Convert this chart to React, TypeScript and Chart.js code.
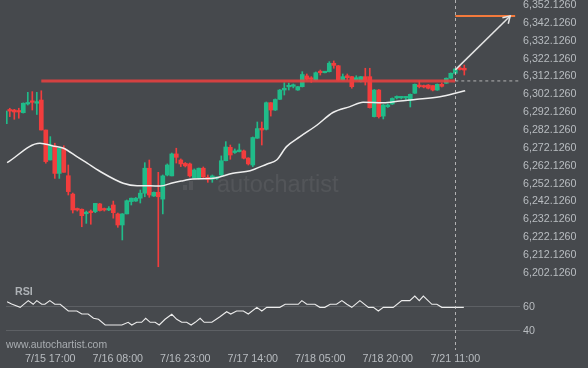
import { useEffect, useRef } from 'react';
import { Chart, registerables } from 'chart.js';

Chart.register(...registerables);

// ---- data (hourly candles, index 0..102) ----
const OPEN = [
  6284.9, 6292.8, 6292.5, 6291.9, 6291.0, 6295.9, 6297.6, 6296.3, 6298.1, 6281.3,
  6264.5, 6272.3, 6257.0, 6271.0, 6255.7, 6245.4, 6237.1, 6236.9, 6234.4, 6235.6,
  6235.6, 6239.9, 6237.1, 6236.5, 6239.3, 6234.3, 6228.1, 6234.3, 6241.2, 6241.5,
  6243.1, 6245.9, 6259.9, 6244.3, 6246.4, 6242.6, 6256.1, 6255.6, 6267.9, 6264.5,
  6262.6, 6262.3, 6254.4, 6254.3, 6259.9, 6254.8, 6253.7, 6254.2, 6256.1, 6264.1,
  6271.6, 6268.7, 6269.2, 6269.6, 6265.6, 6261.7, 6276.7, 6282.3, 6281.7, 6296.6,
  6292.5, 6298.5, 6303.7, 6305.5, 6305.8, 6303.7, 6305.6, 6311.6, 6310.2, 6309.3,
  6314.0, 6313.4, 6314.0, 6318.7, 6317.3, 6309.3, 6311.7, 6311.2, 6309.3, 6308.4,
  6311.2, 6311.2, 6288.8, 6303.7, 6289.1, 6294.4, 6295.9, 6299.3, 6299.3, 6299.3,
  6298.1, 6301.9, 6306.5, 6306.0, 6306.5, 6306.2, 6303.7, 6306.9, 6307.5, 6310.3,
  6313.1, 6315.9, 6315.9,
];
const HIGH = [
  6292.2, 6293.5, 6292.9, 6293.5, 6296.5, 6302.4, 6302.8, 6302.4, 6303.3, 6281.3,
  6277.6, 6273.9, 6271.2, 6272.5, 6261.7, 6246.0, 6237.6, 6237.1, 6235.9, 6236.5,
  6240.2, 6240.2, 6237.6, 6238.4, 6241.5, 6234.8, 6234.5, 6242.1, 6243.2, 6243.5,
  6247.7, 6263.0, 6264.5, 6246.6, 6257.6, 6256.1, 6262.3, 6268.4, 6271.1, 6265.1,
  6263.1, 6262.8, 6259.5, 6260.0, 6260.6, 6256.1, 6256.1, 6255.0, 6266.8, 6274.8,
  6272.9, 6270.7, 6273.5, 6270.1, 6265.8, 6277.4, 6285.8, 6285.8, 6297.0, 6296.7,
  6298.7, 6304.0, 6307.8, 6307.6, 6307.1, 6305.7, 6314.0, 6312.7, 6311.2, 6313.8,
  6314.9, 6314.1, 6319.6, 6320.0, 6317.5, 6312.7, 6312.7, 6311.3, 6311.7, 6311.3,
  6315.9, 6315.9, 6304.0, 6304.0, 6295.6, 6295.9, 6299.3, 6300.4, 6300.1, 6300.1,
  6301.5, 6307.1, 6308.8, 6306.5, 6306.8, 6306.2, 6307.1, 6307.7, 6310.5, 6313.3,
  6315.8, 6317.2, 6317.7,
];
const LOW = [
  6284.7, 6288.8, 6287.3, 6287.9, 6290.8, 6295.3, 6292.5, 6290.0, 6281.3, 6262.7,
  6264.5, 6254.2, 6254.2, 6257.6, 6244.9, 6234.8, 6235.9, 6227.1, 6229.0, 6228.5,
  6235.0, 6235.9, 6235.9, 6236.1, 6231.9, 6226.8, 6219.7, 6234.3, 6239.3, 6241.3,
  6240.4, 6243.9, 6243.6, 6244.1, 6204.7, 6234.3, 6255.6, 6255.6, 6262.8, 6260.8,
  6260.6, 6255.0, 6254.2, 6253.9, 6254.7, 6252.0, 6252.0, 6253.6, 6255.8, 6264.0,
  6264.9, 6268.2, 6269.0, 6265.1, 6261.7, 6260.8, 6276.6, 6272.9, 6281.3, 6289.1,
  6292.2, 6298.4, 6300.9, 6303.7, 6304.9, 6303.5, 6305.4, 6309.3, 6308.0, 6309.1,
  6312.1, 6313.3, 6313.8, 6315.9, 6309.1, 6309.1, 6309.3, 6304.7, 6309.1, 6308.2,
  6306.5, 6293.6, 6288.6, 6288.0, 6287.5, 6293.9, 6295.6, 6298.7, 6298.7, 6298.4,
  6294.2, 6301.8, 6304.9, 6304.9, 6304.3, 6303.2, 6303.5, 6305.4, 6307.4, 6310.2,
  6313.0, 6314.9, 6312.1,
];
const CLOSE = [
  6291.9, 6291.9, 6291.4, 6291.4, 6296.3, 6296.6, 6296.8, 6297.2, 6281.3, 6263.6,
  6272.9, 6257.0, 6271.0, 6257.6, 6246.8, 6236.5, 6236.5, 6233.3, 6235.2, 6235.0,
  6240.2, 6236.2, 6236.5, 6237.1, 6235.0, 6228.1, 6234.3, 6241.7, 6243.1, 6243.1,
  6245.9, 6259.9, 6244.9, 6246.4, 6243.9, 6255.6, 6261.7, 6267.9, 6266.0, 6262.3,
  6261.2, 6255.6, 6258.9, 6259.9, 6255.0, 6253.7, 6255.6, 6254.5, 6264.1, 6271.8,
  6267.3, 6269.6, 6270.1, 6265.5, 6262.3, 6277.1, 6282.1, 6281.3, 6296.6, 6292.5,
  6298.4, 6303.7, 6304.7, 6305.9, 6306.1, 6305.6, 6312.4, 6309.7, 6309.7, 6313.4,
  6313.4, 6313.8, 6318.7, 6317.5, 6309.3, 6311.2, 6310.6, 6305.6, 6310.6, 6311.2,
  6308.4, 6293.8, 6303.7, 6288.8, 6295.3, 6295.3, 6299.0, 6299.6, 6299.5, 6299.6,
  6301.3, 6306.9, 6305.6, 6305.4, 6304.7, 6303.7, 6306.9, 6305.8, 6310.3, 6313.1,
  6315.5, 6315.2, 6314.9,
];

// moving average [candle index, price]
const MA_POINTS = [
  [0.4, 6263.0], [7.7, 6273.9], [10.6, 6272.4], [12.8, 6271.2], [15.9, 6266.4],
  [18.2, 6262.7], [21.0, 6258.2], [26.2, 6251.5], [29.3, 6250.1], [32.2, 6250.1],
  [34.4, 6249.9], [37.3, 6251.8], [39.5, 6252.9], [41.7, 6253.9], [46.2, 6254.3],
  [50.6, 6257.1], [54.4, 6258.5], [58.2, 6262.3], [60.3, 6264.5], [62.5, 6272.0],
  [65.5, 6277.6], [69.3, 6284.1], [72.8, 6291.1], [76.6, 6294.4], [79.5, 6296.8],
  [84.0, 6296.6], [87.7, 6297.6], [91.5, 6298.5], [96.6, 6300.0], [100.0, 6301.9],
  [102.2, 6303.3],
];

// RSI [candle index, value]
const RSI_POINTS = [
  [0.4, 63.5], [1.4, 61.6], [3.3, 58.9], [5.1, 64.4], [6.2, 61.4], [7.0, 64.4],
  [8.1, 61.4], [8.8, 61.4], [9.9, 64.4], [11.0, 61.4], [12.2, 61.4], [14.0, 55.9],
  [15.9, 55.9], [17.0, 53.4], [18.4, 53.4], [19.6, 49.9], [20.7, 49.1], [22.2, 44.4],
  [25.9, 44.4], [27.3, 46.6], [28.1, 44.4], [29.2, 46.6], [30.3, 46.6], [31.2, 49.9],
  [32.2, 46.6], [33.3, 46.6], [34.2, 44.4], [35.5, 49.1], [37.0, 53.2], [38.1, 49.1],
  [39.2, 46.6], [40.3, 46.6], [41.3, 44.4], [42.2, 46.6], [43.3, 49.9], [44.2, 46.6],
  [45.9, 46.6], [47.7, 51.2], [49.2, 55.3], [50.1, 53.4], [51.4, 55.9], [52.9, 55.9],
  [54.0, 53.4], [55.9, 58.9], [57.0, 55.9], [58.1, 58.9], [61.0, 58.9], [62.2, 61.4],
  [65.1, 61.4], [65.9, 64.4], [67.0, 61.4], [68.8, 61.4], [69.9, 58.9], [71.0, 58.9],
  [72.2, 61.4], [73.6, 61.4], [74.8, 64.4], [75.9, 61.4], [77.0, 58.9], [78.8, 64.4],
  [80.7, 58.9], [81.8, 58.9], [82.9, 55.9], [84.0, 58.9], [86.2, 58.9], [88.1, 64.4],
  [89.9, 64.4], [91.0, 68.2], [92.0, 64.4], [92.9, 68.2], [94.8, 61.4], [95.9, 61.4],
  [97.0, 58.9], [101.9, 58.9],
];

const PRICE_TICKS = [
  6202.126, 6212.126, 6222.126, 6232.126, 6242.126, 6252.126, 6262.126, 6272.126,
  6282.126, 6292.126, 6302.126, 6312.126, 6322.126, 6332.126, 6342.126, 6352.126,
];
const RSI_TICKS = [40, 60];
const TIME_LABELS = ['7/15 17:00', '7/16 08:00', '7/16 23:00', '7/17 14:00', '7/18 05:00', '7/18 20:00', '7/21 11:00'];
const TIME_LABEL_INDEX = [10, 25, 40, 55, 70, 85, 100];

const RESISTANCE_PRICE = 6308.8;
const RESISTANCE_START_INDEX = 8;
const SIGNAL_INDEX = 100;
const ARROW_START_PRICE = 6315.0;
const ARROW_TIP_INDEX = 112.2;
const TARGET_PRICE = 6345.2;
const TARGET_END_INDEX = 113.3;

// visible ranges
const X_MIN = 0.156;
const X_MAX = 114.38;
const PRICE_MIN = 6159.18;
const PRICE_MAX = 6354.14;
const RSI_MIN = 25.49;
const RSI_MAX = 311.44;

// ---- styles ----
const BG = '#46494d';
const GREEN = 'rgb(32,187,137)';
const RED = 'rgb(242,61,61)';
const FONT = '"Liberation Sans", Arial, sans-serif';
const AXIS_TEXT = '#b8bcc0';
const ARROW_COLOR = '#e4e4e4';

const overlayPlugin = {
  id: 'overlay',
  beforeDraw(chart: any) {
    const { ctx, width, height } = chart;
    ctx.save();
    ctx.fillStyle = BG;
    ctx.fillRect(0, 0, width, height);
    ctx.restore();
  },
  beforeDatasetsDraw(chart: any) {
    const ctx = chart.ctx;
    ctx.save();
    ctx.fillStyle = 'rgba(255,255,255,0.07)';
    ctx.font = `23.5px ${FONT}`;
    ctx.textBaseline = 'alphabetic';
    ctx.textAlign = 'left';
    ctx.fillText('autochartist', 217, 192);
    ctx.fillRect(183, 185, 4, 5);
    ctx.fillRect(189, 181, 4, 9);
    ctx.restore();
  },
  afterDatasetsDraw(chart: any) {
    const { ctx, chartArea, scales } = chart;
    const xs = scales.x;
    const ys = scales.y;
    const vx = Math.round(xs.getPixelForValue(SIGNAL_INDEX)) + 0.5;
    ctx.save();
    ctx.strokeStyle = 'rgba(205,205,205,0.8)';
    ctx.lineWidth = 1;
    ctx.setLineDash([3, 3]);
    ctx.beginPath();
    ctx.moveTo(vx, chartArea.top);
    ctx.lineTo(vx, chartArea.bottom + 2);
    ctx.stroke();
    ctx.setLineDash([]);
    const x0 = xs.getPixelForValue(SIGNAL_INDEX);
    const y0 = ys.getPixelForValue(ARROW_START_PRICE);
    const x1 = xs.getPixelForValue(ARROW_TIP_INDEX);
    const y1 = ys.getPixelForValue(TARGET_PRICE);
    const ang = Math.atan2(y1 - y0, x1 - x0);
    const len = 8;
    const spread = 0.55;
    ctx.strokeStyle = ARROW_COLOR;
    ctx.lineWidth = 1.5;
    ctx.beginPath();
    ctx.moveTo(x1 - len * Math.cos(ang - spread), y1 - len * Math.sin(ang - spread));
    ctx.lineTo(x1, y1);
    ctx.lineTo(x1 - len * Math.cos(ang + spread), y1 - len * Math.sin(ang + spread));
    ctx.stroke();
    ctx.restore();
  },
  afterDraw(chart: any) {
    const ctx = chart.ctx;
    ctx.save();
    ctx.textAlign = 'left';
    ctx.textBaseline = 'alphabetic';
    ctx.fillStyle = '#aeb2b6';
    ctx.font = `bold 10.7px ${FONT}`;
    ctx.fillText('RSI', 15, 295);
    ctx.fillStyle = '#a9adb1';
    ctx.font = `10.4px ${FONT}`;
    ctx.fillText('www.autochartist.com', 6, 348);
    ctx.restore();
  },
};

export default function App() {
  const ref = useRef<HTMLCanvasElement>(null);

  useEffect(() => {
    if (!ref.current) return;
    const idx = OPEN.map((_, i) => i);
    const colors = idx.map((i) => (CLOSE[i] >= OPEN[i] ? GREEN : RED));

    const chart = new Chart(ref.current, {
      type: 'line',
      data: {
        datasets: [
          {
            type: 'line',
            label: 'Arrow',
            data: [
              { x: SIGNAL_INDEX, y: ARROW_START_PRICE },
              { x: ARROW_TIP_INDEX, y: TARGET_PRICE },
            ],
            borderColor: ARROW_COLOR,
            borderWidth: 1.5,
            pointRadius: 0,
            yAxisID: 'y',
            order: 0,
          },
          {
            type: 'line',
            label: 'Target',
            data: [
              { x: SIGNAL_INDEX, y: TARGET_PRICE },
              { x: TARGET_END_INDEX, y: TARGET_PRICE },
            ],
            borderColor: '#f47a3c',
            borderWidth: 2,
            pointRadius: 0,
            yAxisID: 'y',
            order: 1,
          },
          {
            type: 'line',
            label: 'Level ext',
            data: [
              { x: SIGNAL_INDEX, y: RESISTANCE_PRICE },
              { x: X_MAX, y: RESISTANCE_PRICE },
            ],
            borderColor: 'rgba(205,205,205,0.8)',
            borderWidth: 1,
            borderDash: [3, 3],
            pointRadius: 0,
            yAxisID: 'y',
            order: 2,
          },
          {
            type: 'line',
            label: 'Resistance',
            data: [
              { x: RESISTANCE_START_INDEX, y: RESISTANCE_PRICE },
              { x: SIGNAL_INDEX, y: RESISTANCE_PRICE },
            ],
            borderColor: 'rgba(232,64,64,0.88)',
            borderWidth: 3,
            pointRadius: 0,
            yAxisID: 'y',
            order: 3,
          },
          {
            type: 'line',
            label: 'MA',
            data: MA_POINTS.map(([x, y]) => ({ x, y })),
            borderColor: '#eeeeee',
            borderWidth: 1.5,
            pointRadius: 0,
            cubicInterpolationMode: 'monotone',
            yAxisID: 'y',
            order: 4,
          },
          {
            type: 'line',
            label: 'RSI',
            data: RSI_POINTS.map(([x, y]) => ({ x, y })),
            borderColor: '#ececec',
            borderWidth: 1.1,
            pointRadius: 0,
            yAxisID: 'yRsi',
            order: 5,
          },
          {
            type: 'bar',
            label: 'Bodies',
            data: idx.map((i) => ({ x: i, y: [OPEN[i], CLOSE[i]] })),
            backgroundColor: colors,
            borderWidth: 0,
            barThickness: 4,
            minBarLength: 1.5,
            grouped: false,
            clip: 0,
            yAxisID: 'y',
            order: 6,
          } as any,
          {
            type: 'bar',
            label: 'Wicks',
            data: idx.map((i) => ({ x: i, y: [LOW[i], HIGH[i]] })),
            backgroundColor: colors,
            borderWidth: 0,
            barThickness: 1,
            minBarLength: 1,
            grouped: false,
            clip: 0,
            yAxisID: 'y',
            order: 7,
          } as any,
        ],
      },
      options: {
        responsive: false,
        animation: false,
        devicePixelRatio: 1,
        events: [],
        layout: { padding: { left: 6, right: 0, top: 0, bottom: 0 } },
        plugins: {
          legend: { display: false },
          tooltip: { enabled: false },
        },
        scales: {
          x: {
            type: 'linear',
            position: 'bottom',
            min: X_MIN,
            max: X_MAX,
            offset: false,
            grid: { display: false, drawTicks: false },
            border: { display: false },
            ticks: {
              autoSkip: false,
              maxRotation: 0,
              minRotation: 0,
              padding: 4.5,
              color: AXIS_TEXT,
              font: { family: FONT, size: 10.7 },
              callback: (v: any) => {
                const k = TIME_LABEL_INDEX.indexOf(Number(v));
                return k >= 0 ? TIME_LABELS[k] : '';
              },
            },
            afterBuildTicks: (s: any) => {
              s.ticks = TIME_LABEL_INDEX.map((v) => ({ value: v }));
            },
            afterFit: (s: any) => {
              s.height = 20;
              s.paddingLeft = 0;
              s.paddingRight = 0;
            },
          },
          yRsi: {
            type: 'linear',
            position: 'right',
            weight: 0,
            min: RSI_MIN,
            max: RSI_MAX,
            grid: { color: 'rgba(255,255,255,0.13)', lineWidth: 1, drawTicks: false },
            border: { display: false },
            ticks: {
              padding: 3,
              labelOffset: 1,
              color: AXIS_TEXT,
              font: { family: FONT, size: 10.7 },
              callback: (v: any) => String(v),
            },
            afterBuildTicks: (s: any) => {
              s.ticks = RSI_TICKS.map((v) => ({ value: v }));
            },
            afterFit: (s: any) => {
              s.width = 0;
              s.paddingTop = 0;
              s.paddingBottom = 0;
              // labels live in the shared right gutter; don't clip them to this zero-width box
              s._computeLabelArea = () => undefined;
            },
          },
          y: {
            type: 'linear',
            position: 'right',
            weight: 1,
            min: PRICE_MIN,
            max: PRICE_MAX,
            grid: { display: false, drawTicks: false },
            border: { display: false },
            ticks: {
              padding: 3,
              labelOffset: 1.5,
              color: AXIS_TEXT,
              font: { family: FONT, size: 10.7 },
              callback: (v: any) =>
                Number(v).toLocaleString('en-US', { minimumFractionDigits: 4, maximumFractionDigits: 4 }),
            },
            afterBuildTicks: (s: any) => {
              s.ticks = PRICE_TICKS.map((v) => ({ value: v }));
            },
            afterFit: (s: any) => {
              s.width = 68;
              s.paddingTop = 0;
              s.paddingBottom = 0;
            },
          },
        },
      } as any,
      plugins: [overlayPlugin],
    });

    return () => chart.destroy();
  }, []);

  return (
    <div style={{ position: 'fixed', left: 0, top: 0, width: 588, height: 368, background: BG }}>
      <canvas ref={ref} width={588} height={368} style={{ display: 'block', width: 588, height: 368 }} />
    </div>
  );
}
